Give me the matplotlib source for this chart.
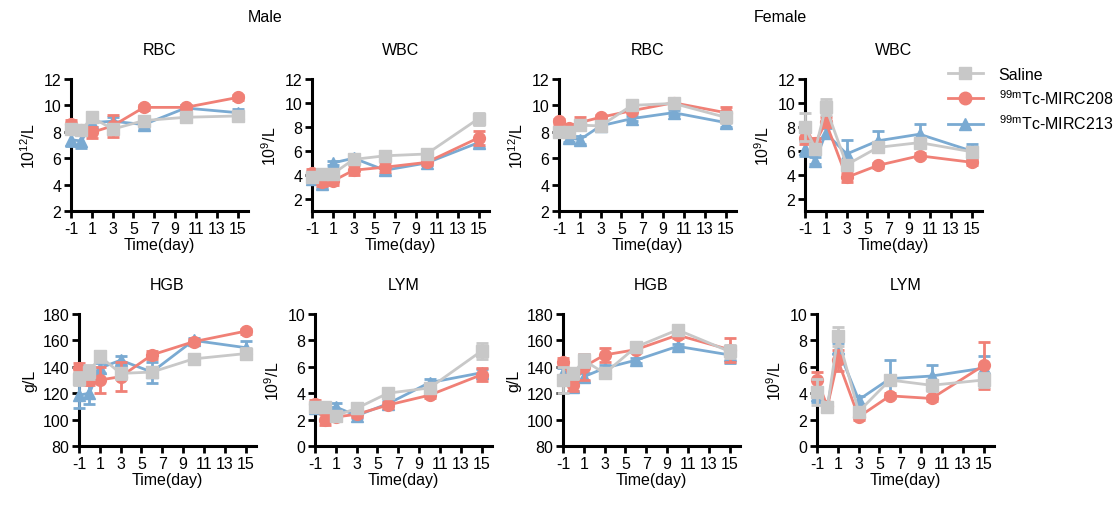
import matplotlib
matplotlib.use("Agg")
import matplotlib.pyplot as plt
import numpy as np
from matplotlib.lines import Line2D

plt.rcParams['font.family'] = ['Liberation Sans', 'DejaVu Sans']
plt.rcParams['mathtext.fontset'] = 'custom'
plt.rcParams['mathtext.rm'] = 'Liberation Sans'
plt.rcParams['mathtext.it'] = 'Liberation Sans:italic'
plt.rcParams['mathtext.bf'] = 'Liberation Sans:bold'
plt.rcParams['axes.unicode_minus'] = False

days = [-1, 0, 1, 3, 6, 10, 15]
groups = ["Saline", r"$^{\mathrm{99m}}$Tc-MIRC208", r"$^{\mathrm{99m}}$Tc-MIRC213"]
colors = ["#C8C8C8", "#F08076", "#7AAAD2"]
markers = ["s", "o", "^"]

# ---- Male ----
m_rbc_saline = [8.2, 8.1, 9.1, 8.2, 8.85, 9.1, 9.2]
m_rbc_208 = [8.6, 8.1, 7.95, 8.45, 9.85, 9.85, 10.6]
m_rbc_213 = [7.4, 7.3, 8.7, 8.8, 8.55, 9.8, 9.45]
m_rbc_saline_err = [0.3, 0.2, 0.3, 0.3, 0.2, 0.2, 0.2]
m_rbc_208_err = [0.3, 0.3, 0.45, 0.85, 0.2, 0.2, 0.2]
m_rbc_213_err = [0.5, 0.5, 0.3, 0.3, 0.3, 0.2, 0.3]

m_wbc_saline = [3.8, 4.1, 4.1, 5.3, 5.6, 5.75, 8.7]
m_wbc_208 = [4.2, 3.4, 3.5, 4.4, 4.65, 5.05, 7.1]
m_wbc_213 = [3.7, 3.25, 5.0, 5.4, 4.4, 5.0, 6.7]
m_wbc_saline_err = [0.3, 0.4, 0.3, 0.2, 0.2, 0.2, 0.5]
m_wbc_208_err = [0.3, 0.3, 0.3, 0.4, 0.4, 0.2, 0.6]
m_wbc_213_err = [0.3, 0.3, 0.2, 0.2, 0.3, 0.2, 0.4]

m_hgb_saline = [131, 136, 148, 135, 136, 146, 150]
m_hgb_208 = [139, 130, 130, 132.5, 149, 159, 167]
m_hgb_213 = [118.5, 120, 139, 145, 136, 160, 154.5]
m_hgb_saline_err = [5, 5, 4, 4, 4, 2, 4]
m_hgb_208_err = [4, 4, 10, 11, 3, 2, 2]
m_hgb_213_err = [10, 8, 4, 3, 8, 2, 5]

m_lym_saline = [2.95, 2.95, 2.3, 2.85, 4.0, 4.4, 7.2]
m_lym_208 = [3.2, 2.0, 2.2, 2.4, 3.1, 3.85, 5.4]
m_lym_213 = [2.85, 2.85, 2.95, 2.3, 3.2, 4.8, 5.55]
m_lym_saline_err = [0.3, 0.3, 0.3, 0.3, 0.2, 0.3, 0.6]
m_lym_208_err = [0.3, 0.4, 0.3, 0.2, 0.2, 0.2, 0.5]
m_lym_213_err = [0.3, 0.3, 0.3, 0.2, 0.2, 0.3, 0.3]

# ---- Female ----
f_rbc_saline = [7.95, 7.95, 8.5, 8.45, 10.0, 10.15, 9.1]
f_rbc_208 = [8.8, 8.3, 8.7, 9.1, 9.6, 10.2, 9.45]
f_rbc_213 = [8.1, 7.55, 7.4, 8.45, 9.0, 9.45, 8.7]
f_rbc_saline_err = [0.3, 0.3, 0.3, 0.2, 0.2, 0.2, 0.4]
f_rbc_208_err = [0.2, 0.3, 0.45, 0.2, 0.2, 0.2, 0.45]
f_rbc_213_err = [0.3, 0.3, 0.3, 0.2, 0.2, 0.2, 0.3]

f_wbc_saline = [8.0, 6.2, 9.65, 4.85, 6.3, 6.7, 5.94]
f_wbc_208 = [7.1, 6.7, 8.4, 3.8, 4.8, 5.6, 5.06]
f_wbc_213 = [6.2, 5.2, 7.5, 5.75, 6.85, 7.4, 6.0]
f_wbc_saline_err = [1.2, 0.4, 0.65, 0.4, 0.3, 0.3, 0.3]
f_wbc_208_err = [0.5, 0.4, 0.4, 0.4, 0.2, 0.2, 0.2]
f_wbc_213_err = [0.6, 0.3, 0.4, 1.15, 0.85, 0.85, 0.6]

f_hgb_saline = [130, 135, 145, 135, 155, 168, 151.6]
f_hgb_208 = [144, 126, 140, 149, 153, 164, 153]
f_hgb_213 = [135, 125, 132.5, 139, 145, 155.5, 149]
f_hgb_saline_err = [10, 4, 5, 3, 2, 3, 5]
f_hgb_208_err = [3, 4, 10, 5, 2, 2, 9]
f_hgb_213_err = [4, 3, 3, 2, 2, 2, 6]

f_lym_saline = [4.1, 2.95, 8.3, 2.6, 5.0, 4.6, 5.0]
f_lym_208 = [5.0, 3.0, 6.5, 2.2, 3.8, 3.6, 6.1]
f_lym_213 = [3.85, 3.0, 7.4, 3.5, 5.1, 5.3, 5.9]
f_lym_saline_err = [1.0, 0.2, 0.7, 0.3, 0.3, 0.4, 0.5]
f_lym_208_err = [0.6, 0.2, 0.8, 0.2, 0.2, 0.2, 1.8]
f_lym_213_err = [0.5, 0.2, 0.4, 0.3, 1.4, 0.8, 0.9]

xticks = [-1, 1, 3, 5, 7, 9, 11, 13, 15]

panels = [
    # (title, ylabel, ylim, yticks, data, errs, left_px, row)
    ("RBC", r"10$^{12}$/L", (2, 12), [2, 4, 6, 8, 10, 12],
     [m_rbc_saline, m_rbc_208, m_rbc_213], [m_rbc_saline_err, m_rbc_208_err, m_rbc_213_err], 71, 0),
    ("WBC", r"10$^{9}$/L", (1, 12), [2, 4, 6, 8, 10, 12],
     [m_wbc_saline, m_wbc_208, m_wbc_213], [m_wbc_saline_err, m_wbc_208_err, m_wbc_213_err], 312, 0),
    ("RBC", r"10$^{12}$/L", (2, 12), [2, 4, 6, 8, 10, 12],
     [f_rbc_saline, f_rbc_208, f_rbc_213], [f_rbc_saline_err, f_rbc_208_err, f_rbc_213_err], 559, 0),
    ("WBC", r"10$^{9}$/L", (1, 12), [2, 4, 6, 8, 10, 12],
     [f_wbc_saline, f_wbc_208, f_wbc_213], [f_wbc_saline_err, f_wbc_208_err, f_wbc_213_err], 805, 0),
    ("HGB", "g/L", (80, 180), [80, 100, 120, 140, 160, 180],
     [m_hgb_saline, m_hgb_208, m_hgb_213], [m_hgb_saline_err, m_hgb_208_err, m_hgb_213_err], 79, 1),
    ("LYM", r"10$^{9}$/L", (0, 10), [0, 2, 4, 6, 8, 10],
     [m_lym_saline, m_lym_208, m_lym_213], [m_lym_saline_err, m_lym_208_err, m_lym_213_err], 315, 1),
    ("HGB", "g/L", (80, 180), [80, 100, 120, 140, 160, 180],
     [f_hgb_saline, f_hgb_208, f_hgb_213], [f_hgb_saline_err, f_hgb_208_err, f_hgb_213_err], 563, 1),
    ("LYM", r"10$^{9}$/L", (0, 10), [0, 2, 4, 6, 8, 10],
     [f_lym_saline, f_lym_208, f_lym_213], [f_lym_saline_err, f_lym_208_err, f_lym_213_err], 817, 1),
]

W, H = 1115, 506
fig = plt.figure(figsize=(W / 100, H / 100), dpi=100)

row_top_px = [80, 315]
ax_h_px = 132
ax_w_px = 177
fs = 11.5

for title, ylab, ylim, yticks, data, errs, left, row in panels:
    top = row_top_px[row]
    ax = fig.add_axes([left / W, 1 - (top + ax_h_px) / H, ax_w_px / W, ax_h_px / H])
    for i in [2, 1, 0]:
        ax.errorbar(days, data[i], yerr=errs[i], color=colors[i], marker=markers[i],
                    markersize=8.5 if markers[i] != "^" else 9, lw=2, elinewidth=2,
                    capsize=4, capthick=2, zorder=3 + (2 - i), clip_on=False)
    ax.set_xlim(-1, 16)
    ax.set_ylim(*ylim)
    ax.set_xticks(xticks)
    ax.set_yticks(yticks)
    ax.tick_params(axis='both', direction='out', length=5, width=2, labelsize=fs, pad=2)
    ax.spines['top'].set_visible(False)
    ax.spines['right'].set_visible(False)
    for s in ['left', 'bottom']:
        ax.spines[s].set_linewidth(2.2)
    ax.set_title(title, fontsize=fs, pad=18)
    ax.set_xlabel("Time(day)", fontsize=fs, labelpad=1)
    ax.set_ylabel(ylab, fontsize=fs, labelpad=4)

fig.text(265 / W, 1 - 17 / H, "Male", ha='center', va='center', fontsize=fs)
fig.text(780 / W, 1 - 17 / H, "Female", ha='center', va='center', fontsize=fs)

leg_handles = [Line2D([], [], color=colors[i], marker=markers[i], markersize=9, lw=2) for i in range(3)]
fig.legend(leg_handles, groups, loc='upper left', bbox_to_anchor=(938 / W, 1 - 58 / H),
           frameon=False, fontsize=11.5, handlelength=2.2, handletextpad=1.0,
           labelspacing=0.42, borderaxespad=0.2)

fig.savefig("out.png", dpi=100)
